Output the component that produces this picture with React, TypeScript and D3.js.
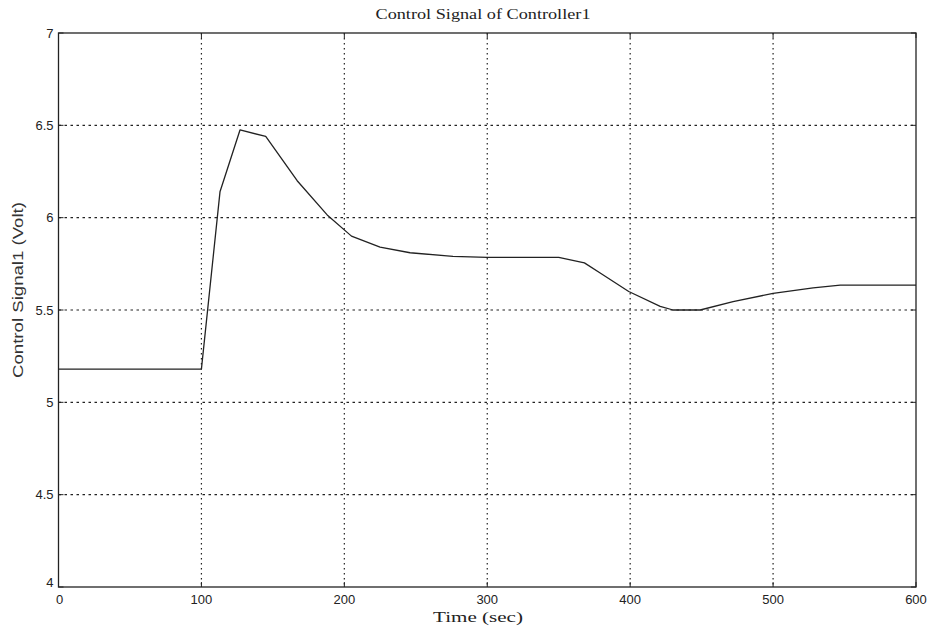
import { useEffect, useRef } from "react";
import * as d3 from "d3";

// Control signal
const timeSec = [0, 100, 113, 127, 145, 167, 188, 205, 225, 246, 276, 300, 350, 368, 379, 399, 421, 430, 449, 472, 500, 528, 547, 600];
const signalVolt = [5.18, 5.18, 6.14, 6.475, 6.44, 6.2, 6.015, 5.9, 5.84, 5.81, 5.79, 5.785, 5.785, 5.755, 5.7, 5.6, 5.52, 5.5, 5.5, 5.545, 5.59, 5.62, 5.635, 5.635];

const xTicks = [0, 100, 200, 300, 400, 500, 600];
const yTicks = [4, 4.5, 5, 5.5, 6, 6.5, 7];

const W = 932;
const H = 630;

export default function App() {
    const svgRef = useRef<SVGSVGElement>(null);

    useEffect(() => {
        const svg = d3.select(svgRef.current);
        svg.selectAll("*").remove();

        const margin = { top: 33, right: 16, bottom: 43, left: 58.5 };
        const width = W - margin.left - margin.right;
        const height = H - margin.top - margin.bottom;

        const x = d3.scaleLinear().domain([0, 600]).range([margin.left, margin.left + width]);
        const y = d3.scaleLinear().domain([4, 7]).range([margin.top + height, margin.top]);

        svg.append("rect").attr("width", W).attr("height", H).attr("fill", "#fff");

        // Grid (dotted, MATLAB style)
        const grid = svg.append("g").attr("stroke", "#222").attr("stroke-width", 1.2);
        grid.selectAll("line.v")
            .data(xTicks.slice(1, -1))
            .enter()
            .append("line")
            .attr("x1", d => x(d)).attr("x2", d => x(d))
            .attr("y1", y(7)).attr("y2", y(4))
            .attr("stroke-dasharray", "1.5,3.5");
        grid.selectAll("line.h")
            .data(yTicks.slice(1, -1))
            .enter()
            .append("line")
            .attr("y1", d => y(d)).attr("y2", d => y(d))
            .attr("x1", x(0)).attr("x2", x(600))
            .attr("stroke-dasharray", "2.5,3.5");

        // Inner ticks
        const tk = 5;
        const ticks = svg.append("g").attr("stroke", "#222").attr("stroke-width", 1);
        xTicks.forEach(t => {
            ticks.append("line").attr("x1", x(t)).attr("x2", x(t)).attr("y1", y(4)).attr("y2", y(4) - tk);
            ticks.append("line").attr("x1", x(t)).attr("x2", x(t)).attr("y1", y(7)).attr("y2", y(7) + tk);
        });
        yTicks.forEach(t => {
            ticks.append("line").attr("y1", y(t)).attr("y2", y(t)).attr("x1", x(0)).attr("x2", x(0) + tk);
            ticks.append("line").attr("y1", y(t)).attr("y2", y(t)).attr("x1", x(600)).attr("x2", x(600) - tk);
        });

        // Frame
        svg.append("rect")
            .attr("x", x(0)).attr("y", y(7))
            .attr("width", x(600) - x(0)).attr("height", y(4) - y(7))
            .attr("fill", "none").attr("stroke", "#222").attr("stroke-width", 1.3);

        // Tick labels
        svg.append("g")
            .selectAll("text")
            .data(xTicks)
            .enter()
            .append("text")
            .attr("x", d => (d === 0 ? x(d) + 1 : x(d)))
            .attr("y", y(4) + 17)
            .attr("text-anchor", "middle")
            .attr("font-family", "Liberation Sans, Arial, sans-serif")
            .attr("font-size", 13)
            .attr("fill", "#222")
            .text(d => `${d}`);

        svg.append("g")
            .selectAll("text")
            .data(yTicks)
            .enter()
            .append("text")
            .attr("x", x(0) - 5)
            .attr("y", d => (d === 4 ? y(d) : y(d) + 4.5))
            .attr("text-anchor", "end")
            .attr("font-family", "Liberation Sans, Arial, sans-serif")
            .attr("font-size", 13)
            .attr("fill", "#222")
            .text(d => `${d}`);

        // Signal line
        const line = d3.line<number>()
            .x((_, i) => x(timeSec[i]))
            .y(d => y(d));
        svg.append("path")
            .datum(signalVolt)
            .attr("fill", "none")
            .attr("stroke", "#222")
            .attr("stroke-width", 1.3)
            .attr("stroke-linejoin", "round")
            .attr("d", line);

        // Titles
        svg.append("text")
            .attr("x", 483)
            .attr("y", 19)
            .attr("text-anchor", "middle")
            .attr("font-family", "Liberation Serif, Times New Roman, serif")
            .attr("font-size", 15.5)
            .attr("textLength", 215)
            .attr("lengthAdjust", "spacingAndGlyphs")
            .attr("fill", "#222")
            .text("Control Signal of Controller1");

        svg.append("text")
            .attr("x", 478)
            .attr("y", 622)
            .attr("text-anchor", "middle")
            .attr("font-family", "Liberation Serif, Times New Roman, serif")
            .attr("font-size", 15)
            .attr("textLength", 90)
            .attr("lengthAdjust", "spacingAndGlyphs")
            .attr("fill", "#222")
            .text("Time (sec)");

        svg.append("text")
            .attr("transform", `translate(23,290) rotate(-90)`)
            .attr("text-anchor", "middle")
            .attr("font-family", "Liberation Sans, Arial, sans-serif")
            .attr("font-size", 14)
            .attr("textLength", 176)
            .attr("lengthAdjust", "spacingAndGlyphs")
            .attr("fill", "#333")
            .text("Control Signal1 (Volt)");
    }, []);

    return (
        <svg
            ref={svgRef}
            width={W}
            height={H}
            style={{ position: "absolute", left: 0, top: 0, display: "block" }}
        />
    );
}
